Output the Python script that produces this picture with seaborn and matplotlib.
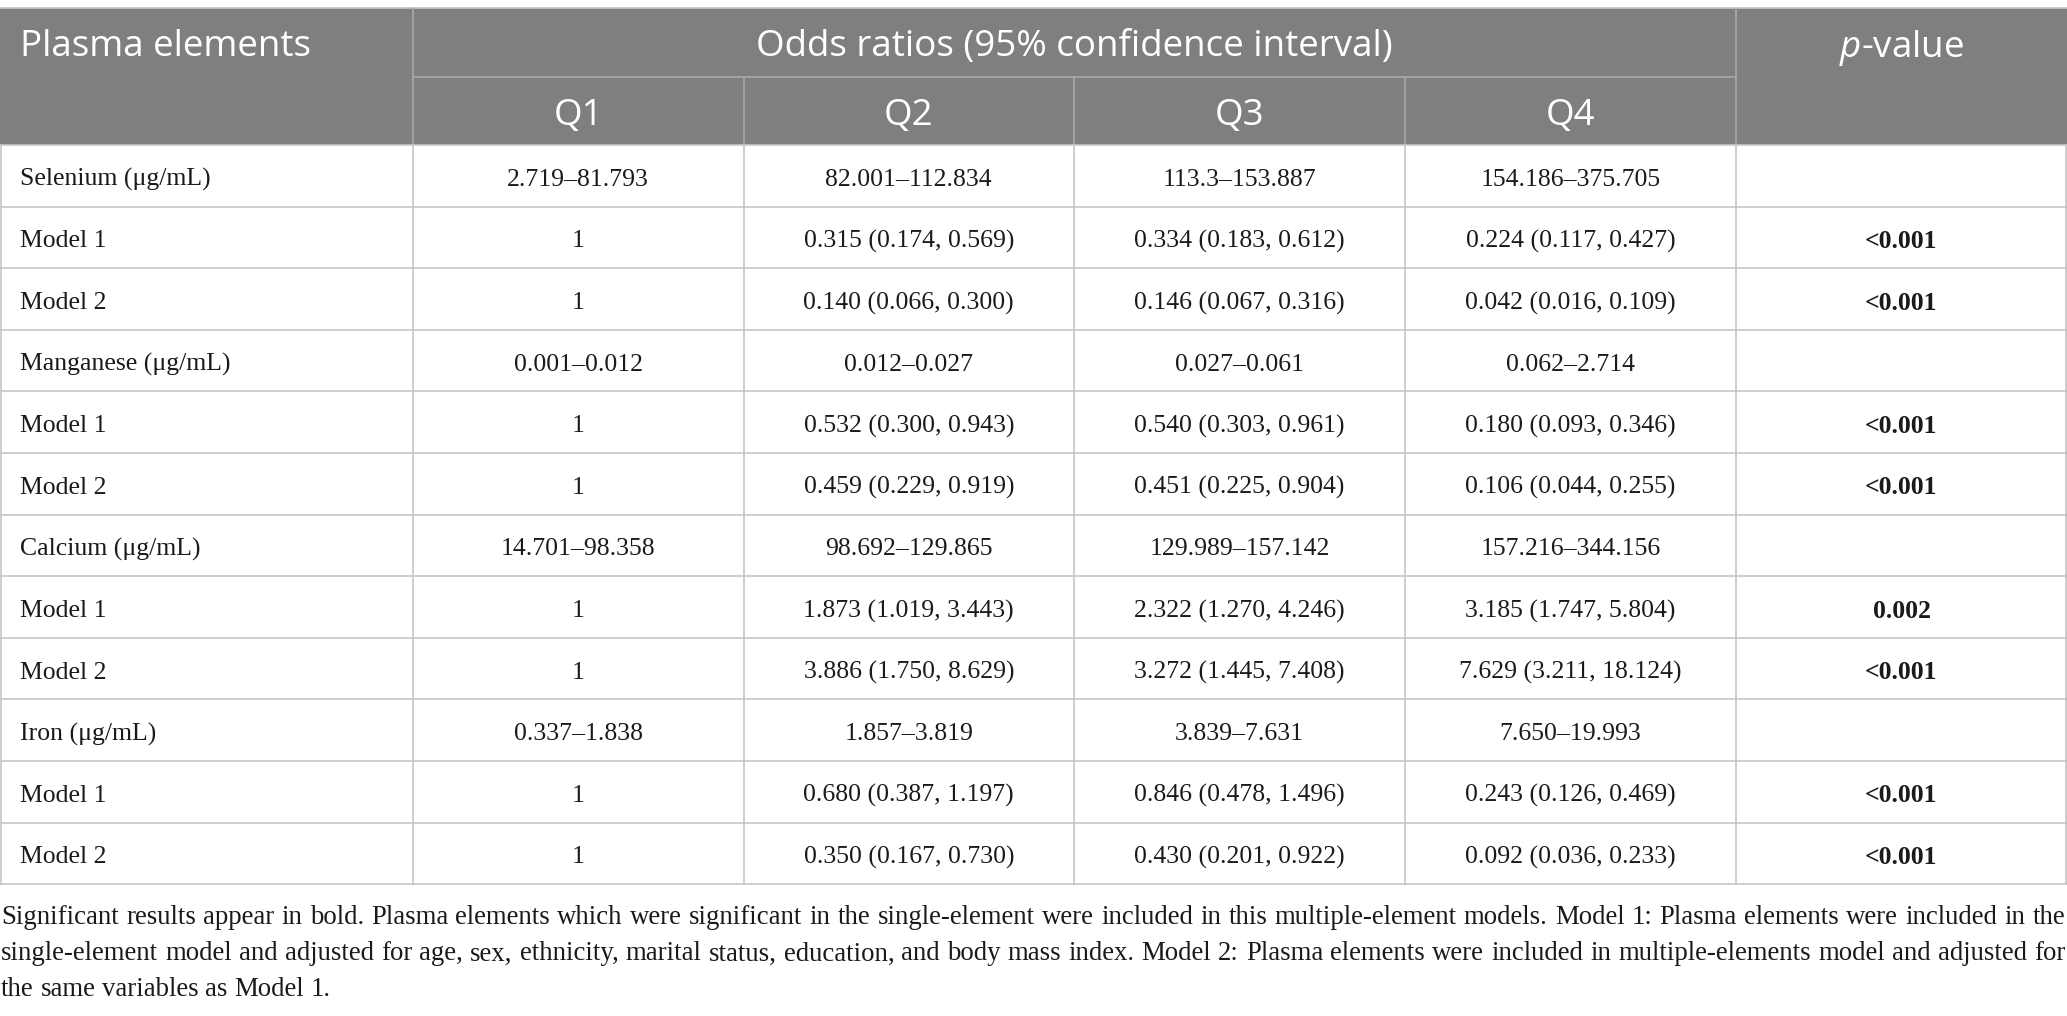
import pandas as pd
import seaborn as sns
import matplotlib.pyplot as plt
from matplotlib.patches import Rectangle

# table content
row_labels = ["Selenium (μg/mL)", "Model 1", "Model 2",
              "Manganese (μg/mL)", "Model 1", "Model 2",
              "Calcium (μg/mL)", "Model 1", "Model 2",
              "Iron (μg/mL)", "Model 1", "Model 2"]
q1 = ["2.719–81.793", "1", "1", "0.001–0.012", "1", "1",
      "14.701–98.358", "1", "1", "0.337–1.838", "1", "1"]
q2 = ["82.001–112.834", "0.315 (0.174, 0.569)", "0.140 (0.066, 0.300)",
      "0.012–0.027", "0.532 (0.300, 0.943)", "0.459 (0.229, 0.919)",
      "98.692–129.865", "1.873 (1.019, 3.443)", "3.886 (1.750, 8.629)",
      "1.857–3.819", "0.680 (0.387, 1.197)", "0.350 (0.167, 0.730)"]
q3 = ["113.3–153.887", "0.334 (0.183, 0.612)", "0.146 (0.067, 0.316)",
      "0.027–0.061", "0.540 (0.303, 0.961)", "0.451 (0.225, 0.904)",
      "129.989–157.142", "2.322 (1.270, 4.246)", "3.272 (1.445, 7.408)",
      "3.839–7.631", "0.846 (0.478, 1.496)", "0.430 (0.201, 0.922)"]
q4 = ["154.186–375.705", "0.224 (0.117, 0.427)", "0.042 (0.016, 0.109)",
      "0.062–2.714", "0.180 (0.093, 0.346)", "0.106 (0.044, 0.255)",
      "157.216–344.156", "3.185 (1.747, 5.804)", "7.629 (3.211, 18.124)",
      "7.650–19.993", "0.243 (0.126, 0.469)", "0.092 (0.036, 0.233)"]
p_values = ["", "<0.001", "<0.001", "", "<0.001", "<0.001",
            "", "0.002", "<0.001", "", "<0.001", "<0.001"]
quartiles = ["Q1", "Q2", "Q3", "Q4"]
header_left = "Plasma elements"
header_mid = "Odds ratios (95% confidence interval)"
footnote = [
    "Significant results appear in bold. Plasma elements which were significant in the single-element were included in this multiple-element models. Model 1: Plasma elements were included in the",
    "single-element model and adjusted for age, sex, ethnicity, marital status, education, and body mass index. Model 2: Plasma elements were included in multiple-elements model and adjusted for",
    "the same variables as Model 1.",
]

df = pd.DataFrame({"label": row_labels, "Q1": q1, "Q2": q2, "Q3": q3, "Q4": q4, "p": p_values})

sns.set_theme(style="white")
plt.rcParams["mathtext.fontset"] = "custom"
plt.rcParams["mathtext.rm"] = "Open Sans"
plt.rcParams["mathtext.it"] = "Open Sans:italic"

W, H = 2067, 1016
fig = plt.figure(figsize=(W / 100, H / 100), dpi=100)
ax = fig.add_axes([0, 0, 1, 1])
ax.set_xlim(0, W)
ax.set_ylim(H, 0)
ax.axis("off")

head_bg = "#7f807e"
head_line = "#a8a9a7"
grid = "#c6c6c6"
ink = "#1a1a1a"
serif = "Liberation Serif"
sans = "Open Sans"
head_fs = 26.5
body_fs = 18.5

col_x = [0, 413, 743.5, 1074, 1405, 1736, W]
top, mid, head_bot = 8, 77, 145
row_h = 61.6
n = len(df)
bottom = head_bot + n * row_h

# header block
ax.add_patch(Rectangle((0, top), W, head_bot - top, color=head_bg, lw=0))
ax.plot([0, W], [top, top], color=grid, lw=1.2)
ax.plot([col_x[1], col_x[5]], [mid, mid], color=head_line, lw=1.2)
for x in (col_x[1], col_x[5]):
    ax.plot([x, x], [top, head_bot], color=head_line, lw=1.2)
for x in col_x[2:5]:
    ax.plot([x, x], [mid, head_bot], color=head_line, lw=1.2)

hy1 = (top + mid) / 2 + 5
hy2 = (mid + head_bot) / 2 + 5
ax.text(20, hy1, header_left, color="white", fontsize=head_fs, family=sans, va="center", ha="left")
ax.text((col_x[1] + col_x[5]) / 2, hy1, header_mid, color="white", fontsize=head_fs, family=sans,
        va="center", ha="center")
ax.text((col_x[5] + col_x[6]) / 2, hy1, r"$\mathit{p}$-value", color="white", fontsize=head_fs,
        family=sans, va="center", ha="center")
for i, q in enumerate(quartiles):
    ax.text((col_x[i + 1] + col_x[i + 2]) / 2, hy2, q, color="white", fontsize=head_fs, family=sans,
            va="center", ha="center")

# body grid
for i in range(n + 1):
    y = head_bot + i * row_h
    ax.plot([0, W], [y, y], color=grid, lw=1.2)
for x in col_x:
    xx = min(max(x, 0.8), W - 0.8)
    ax.plot([xx, xx], [head_bot, bottom], color=grid, lw=1.2)

# body text
for i, row in df.iterrows():
    y = head_bot + (i + 0.5) * row_h + 4
    ax.text(20, y, row["label"], fontsize=body_fs, family=serif, va="center", ha="left", color=ink)
    for j, q in enumerate(quartiles):
        ax.text((col_x[j + 1] + col_x[j + 2]) / 2, y, row[q], fontsize=body_fs, family=serif,
                va="center", ha="center", color=ink)
    if row["p"]:
        ax.text((col_x[5] + col_x[6]) / 2, y, row["p"], fontsize=body_fs, family=serif,
                fontweight="bold", va="center", ha="center", color=ink)

# footnote, justified; pick the largest size whose lines still fit
renderer = fig.canvas.get_renderer()


def text_width(s, fs):
    t = ax.text(0, 0, s, fontsize=fs, family=serif)
    w = t.get_window_extent(renderer).width
    t.remove()
    return w


foot_fs = 20.5
while max(text_width(l, foot_fs) for l in footnote[:2]) > W - 12:
    foot_fs -= 0.25

space_w = text_width("a a", foot_fs) - text_width("aa", foot_fs)
line_y = [917, 954, 990]
for k, line in enumerate(footnote):
    words = line.split(" ")
    arts = [ax.text(0, line_y[k], w, fontsize=foot_fs, family=serif, va="center", ha="left",
                    color=ink) for w in words]
    widths = [a.get_window_extent(renderer).width for a in arts]
    if k < len(footnote) - 1:
        gap = (W - 3 - sum(widths)) / (len(words) - 1)
    else:
        gap = space_w
    x = 1
    for a, w in zip(arts, widths):
        a.set_x(x)
        x += w + gap

fig.savefig("out.png", dpi=100)
plt.close(fig)
